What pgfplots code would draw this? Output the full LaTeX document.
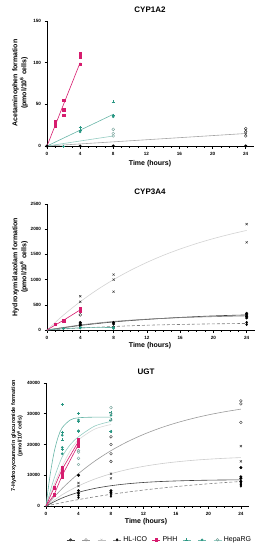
\documentclass[border=0pt]{standalone}
\usepackage{fontspec}
\setmainfont{Liberation Sans}
\usepackage{pgfplots}
\pgfplotsset{compat=1.18}
\definecolor{pk}{RGB}{214,28,110}
\definecolor{tl}{RGB}{40,150,130}
\definecolor{ltl}{RGB}{150,205,195}
\pgfplotsset{
 panel/.style={scale only axis, axis lines=left, axis line style={-, line width=0.8pt},
   xmin=0, xmax=25, ymin=0, xtick={0,4,...,24}, minor x tick num=3, tick align=outside,
   major tick length=2.5pt, minor tick length=1.5pt, tick style={black, line width=0.6pt},
   ticklabel style={font=\fontsize{4.6}{5}\selectfont\bfseries},
   /pgf/number format/assume math mode=true, /pgf/number format/1000 sep={},
   scaled y ticks=false, clip=false},
 ln/.style={line width=0.6pt, no marks},
 hd1/.style={only marks, mark=*, mark size=1.3pt, black},
 hd2/.style={only marks, mark=o, mark size=1.4pt, black!80, mark options={line width=0.4pt}},
 hd3/.style={only marks, mark=x, mark size=1.5pt, black!75, mark options={line width=0.5pt}},
 hd4/.style={only marks, mark=diamond*, mark size=1.3pt, black},
 phh/.style={only marks, mark=square*, mark size=1.2pt, pk},
 hr1/.style={only marks, mark=+, mark size=1.5pt, tl, mark options={line width=0.6pt}},
 hr2/.style={only marks, mark=*, mark size=1.1pt, tl},
 hr3/.style={only marks, mark=o, mark size=1.4pt, ltl!80!black, mark options={line width=0.4pt}},
}
\begin{document}
\begin{tikzpicture}
\useasboundingbox (0pt,0pt) rectangle (270pt,-550pt);
\tikzset{ttl/.style={font=\fontsize{8}{9}\selectfont\bfseries}, xl/.style={font=\fontsize{7}{8}\selectfont\bfseries}}
% ---------------- CYP1A2
\node[ttl] at (150pt,-10pt) {CYP1A2};
\node[xl] at (150pt,-164pt) {Time (hours)};
\node[rotate=90, align=center, font=\fontsize{7}{7.5}\selectfont\bfseries] at (20pt,-83pt) {Acetaminophen formation\\(pmol/10\textsuperscript{6} cells)};
\begin{axis}[panel, at={(47pt,-146pt)}, anchor=south west, width=207pt, height=125pt,
  ymax=150, ytick={0,50,100,150}]
\addplot[ln, gray!70] coordinates {(0,0)(24,15)};
\addplot[ln, ltl] coordinates {(0,0)(8,12)};
\addplot[ln, tl!70] coordinates {(0,0)(4,19)(8,38)};
\addplot[ln, pk] coordinates {(0,0)(4,100)};
\addplot[hd1] coordinates {(0,0)(4,0)(8,0)(24,0)};
\addplot[hd2] coordinates {(24,21)(24,17)(24,12)};
\addplot[hd3] coordinates {(24,19)(24,14)};
\addplot[hr1] coordinates {(2,0)(4,22)(4,19)(8,53)(8,37)};
\addplot[hr2] coordinates {(4,17)(8,35)};
\addplot[hr3] coordinates {(8,20)(8,15)(8,12)};
\addplot[phh] coordinates {(1,29)(1,27)(1,24)(2,55)(2,44)(2,43)(2,37)(4,111)(4,109)(4,107)(4,98)};
\end{axis}
% ---------------- CYP3A4
\node[ttl] at (150pt,-192pt) {CYP3A4};
\node[xl] at (150pt,-346pt) {Time (hours)};
\node[rotate=90, align=center, font=\fontsize{7}{7.5}\selectfont\bfseries] at (20pt,-267pt) {Hydroxymidazolam formation\\(pmol/10\textsuperscript{6} cells)};
\begin{axis}[panel, at={(47pt,-330pt)}, anchor=south west, width=208pt, height=126pt,
  ymax=2500, ytick={0,500,...,2500}]
\addplot[ln, gray!35, smooth] coordinates {(0,0)(2,299)(4,562)(6,795)(8,1000)(10,1181)(12,1341)(14,1483)(16,1607)(18,1717)(20,1814)(22,1900)(24,1976)};
\addplot[ln, black!75, smooth] coordinates {(0,0)(4,90)(8,160)(12,210)(16,250)(20,280)(24,300)};
\addplot[ln, gray, smooth] coordinates {(0,0)(4,100)(8,170)(12,215)(16,245)(20,265)(24,280)};
\addplot[ln, gray, densely dashed, smooth] coordinates {(0,0)(4,40)(8,70)(12,95)(16,110)(20,122)(24,130)};
\addplot[ln, tl!70] coordinates {(0,0)(2,25)(4,45)(8,50)};
\addplot[ln, pk] coordinates {(0,0)(1,100)(2,195)(4,400)};
\addplot[hd1] coordinates {(4,150)(4,120)(4,100)(8,150)(8,120)(24,330)(24,300)(24,270)(24,240)};
\addplot[hd2] coordinates {(4,300)};
\addplot[hd3] coordinates {(4,670)(4,560)(8,1100)(8,1000)(8,760)(24,2100)(24,1740)};
\addplot[hd4] coordinates {(4,50)(4,80)(8,60)(24,150)(24,110)};
\addplot[hr1] coordinates {(2,30)(4,50)(8,50)};
\addplot[hr2] coordinates {(4,40)(8,30)};
\addplot[phh] coordinates {(1,110)(2,200)(2,180)(4,420)(4,400)(4,380)};
\end{axis}
% ---------------- UGT
\node[ttl] at (146pt,-372pt) {UGT};
\node[xl] at (146pt,-522pt) {Time (hours)};
\node[rotate=90, align=center, font=\fontsize{5.5}{6.5}\selectfont\bfseries] at (17pt,-436pt) {7-Hydroxycoumarin glucuronide formation\\(pmol/10\textsuperscript{6} cells)};
\begin{axis}[panel, at={(46pt,-506pt)}, anchor=south west, width=203pt, height=123pt,
  ymax=40000, ytick={0,10000,...,40000},
  legend style={draw=none, fill=none, at={(0.56,-0.275)}, anchor=center, legend columns=-1,
    font=\fontsize{7}{8}\selectfont, /tikz/every even column/.append style={column sep=3pt},
    legend cell align=left},
  legend image code/.code={\draw[mark repeat=2,mark phase=2,#1] plot coordinates {(0pt,0pt)(4pt,0pt)(8pt,0pt)};}]
\addlegendimage{black!75, line width=0.5pt, mark=*, mark size=1.2pt}
\addlegendentry{}
\addlegendimage{gray!80, line width=0.5pt, mark=o, mark size=1.3pt}
\addlegendentry{}
\addlegendimage{gray!50, line width=0.5pt, mark=x, mark size=1.4pt}
\addlegendentry{}
\addlegendimage{gray, densely dashed, line width=0.5pt, mark=diamond*, mark size=1.2pt, mark options={solid, black}}
\addlegendentry{HL-ICO}
\addlegendimage{pk, line width=0.5pt, mark=square*, mark size=1.1pt}
\addlegendentry{PHH}
\addlegendimage{tl!70, line width=0.5pt, mark=+, mark size=1.4pt, mark options={tl}}
\addlegendentry{}
\addlegendimage{tl!70, line width=0.5pt, mark=*, mark size=1.0pt, mark options={tl}}
\addlegendentry{}
\addlegendimage{ltl, line width=0.5pt, mark=o, mark size=1.3pt, mark options={ltl!80!black}}
\addlegendentry{HepaRG}
\addplot[ln, gray!80, smooth, forget plot] coordinates {(0,0)(2,5720)(4,10540)(6,14590)(8,18000)(10,20870)(12,23270)(14,25300)(16,27000)(18,28430)(20,29640)(22,30650)(24,31500)};
\addplot[ln, gray!40, smooth, forget plot] coordinates {(0,0)(2,3680)(4,6540)(6,8770)(8,10500)(10,11850)(12,12890)(14,13710)(16,14340)(18,14840)(20,15220)(22,15520)(24,15750)};
\addplot[ln, black!75, smooth, forget plot] coordinates {(0,0)(2,2620)(4,4450)(6,5720)(8,6600)(10,7220)(12,7650)(14,7950)(16,8150)(18,8300)(20,8400)(22,8470)(24,8500)};
\addplot[ln, gray, densely dashed, smooth, forget plot] coordinates {(0,0)(2,1100)(4,2090)(6,2990)(8,3800)(10,4520)(12,5180)(14,5775)(16,6310)(18,6790)(20,7230)(22,7620)(24,7970)};
\addplot[ln, gray!30, smooth, forget plot] coordinates {(0,0)(1,7000)(2,13000)(3,18000)(4,21500)(6,25000)(8,26500)};
\addplot[ln, ltl, smooth, forget plot] coordinates {(0,0)(1,9000)(2,16000)(3,20000)(4,22500)(6,26000)(8,27500)};
\addplot[ln, tl!70, smooth, forget plot] coordinates {(0,0)(0.5,10000)(1,17500)(1.5,22500)(2,25500)(3,28000)(4,28700)(6,28900)(8,28900)};
\addplot[ln, pk, forget plot] coordinates {(0,0)(1,6000)(2,12000)(4,21000)};
\addplot[ln, pk, forget plot] coordinates {(0,0)(1,3700)(2,10000)(4,20000)};
\addplot[hd1, forget plot] coordinates {(4,10000)(4,5000)(4,4200)(8,5000)(8,4500)(24,12500)(24,9500)(24,9000)(24,8000)};
\addplot[hd2, forget plot] coordinates {(8,22500)(8,20000)(8,17000)(8,14500)(24,34200)(24,33200)(24,27200)};
\addplot[hd3, forget plot] coordinates {(4,7500)(4,6500)(8,10500)(8,9000)(24,19500)(24,14500)};
\addplot[hd4, forget plot] coordinates {(4,3500)(4,2800)(8,4000)(8,3200)(24,7500)(24,7000)(24,6500)};
\addplot[hr1, forget plot] coordinates {(2,33000)(2,24000)(2,21500)(2,18500)(4,30000)(4,27500)(4,24300)(8,30500)(8,28000)(8,24300)};
\addplot[hr2, forget plot] coordinates {(2,23000)(2,19000)(2,17000)(4,28000)(4,24500)(4,21000)(8,29500)(8,24200)};
\addplot[hr3, forget plot] coordinates {(4,18000)(4,17500)(4,15500)(4,13500)(8,32000)(8,30000)(8,28000)};
\addplot[phh, forget plot] coordinates {(1,6200)(1,6000)(1,3800)(1,3500)(2,12500)(2,12000)(2,11000)(2,10000)(2,9500)(4,21500)(4,20500)(4,20000)(4,19500)};
\end{axis}
\end{tikzpicture}
\end{document}
